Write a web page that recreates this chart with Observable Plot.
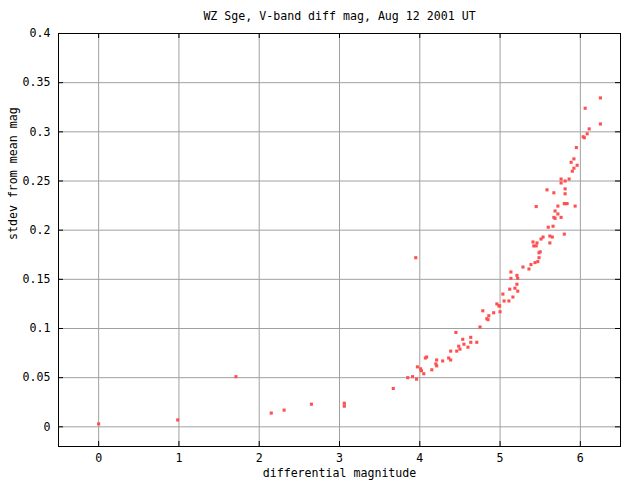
<!DOCTYPE html>
<html>
<head>
<meta charset="utf-8">
<script src="https://cdn.jsdelivr.net/npm/d3@7"></script>
<script src="https://cdn.jsdelivr.net/npm/@observablehq/plot@0.6"></script>
<style>
  html, body { margin: 0; padding: 0; background: #fff; }
</style>
</head>
<body>
<div id="chart"></div>
<script>
const title = "WZ Sge, V-band diff mag, Aug 12 2001 UT";
const xLabel = "differential magnitude";
const yLabel = "stdev from mean mag";

const xTicks = [0, 1, 2, 3, 4, 5, 6];
const xTickLabels = ["0", "1", "2", "3", "4", "5", "6"];
const yTicks = [0, 0.05, 0.1, 0.15, 0.2, 0.25, 0.3, 0.35, 0.4];
const yTickLabels = ["0", "0.05", "0.1", "0.15", "0.2", "0.25", "0.3", "0.35", "0.4"];

const mag = [
  0, 0.985, 1.71, 2.15, 2.31, 2.65, 3.06, 3.06, 3.67, 3.95,
  3.85, 3.91, 3.96, 3.97, 4.01, 4.02, 4.05, 4.07, 4.085, 4.15,
  4.20, 4.21, 4.21, 4.285, 4.36, 4.385, 4.385, 4.45, 4.46, 4.485,
  4.50, 4.535, 4.55, 4.60, 4.635, 4.635, 4.71, 4.75, 4.785, 4.835,
  4.85, 4.86, 4.92, 4.96, 4.985, 4.995, 5.0, 5.035, 5.05, 5.11,
  5.12, 5.135, 5.135, 5.16, 5.185, 5.21, 5.21, 5.22, 5.22, 5.285,
  5.36, 5.385, 5.435, 5.47, 5.485, 5.485, 5.50, 5.42, 5.45, 5.41,
  5.46, 5.51, 5.535, 5.62, 5.65, 5.62, 5.80, 5.60, 5.66, 5.45,
  5.67, 5.685, 5.72, 5.76, 5.685, 5.72, 5.80, 5.81, 5.835, 5.935,
  5.585, 5.67, 5.81, 5.81, 5.76, 5.76, 5.81, 5.86, 5.90, 6.25,
  6.06, 6.25, 6.11, 6.085, 6.035, 6.05, 5.95, 5.92, 5.885, 5.96,
  5.92
];
const stdev = [
  0.003, 0.007, 0.051, 0.014, 0.017, 0.023, 0.024, 0.021, 0.039, 0.172,
  0.050, 0.051, 0.0485, 0.061, 0.059, 0.057, 0.054, 0.070, 0.071, 0.058,
  0.064, 0.068, 0.062, 0.067, 0.070, 0.068, 0.077, 0.096, 0.077, 0.082,
  0.079, 0.089, 0.084, 0.081, 0.091, 0.086, 0.086, 0.1015, 0.118, 0.110,
  0.109, 0.113, 0.116, 0.125, 0.123, 0.123, 0.117, 0.135, 0.128, 0.128,
  0.140, 0.1575, 0.151, 0.132, 0.141, 0.154, 0.145, 0.151, 0.138, 0.1625,
  0.1605, 0.165, 0.167, 0.168, 0.172, 0.177, 0.178, 0.184, 0.184, 0.188,
  0.187, 0.191, 0.193, 0.194, 0.193, 0.187, 0.196, 0.203, 0.204, 0.224,
  0.213, 0.212, 0.2165, 0.213, 0.2195, 0.2245, 0.227, 0.227, 0.227, 0.2245,
  0.241, 0.238, 0.242, 0.237, 0.252, 0.248, 0.250, 0.252, 0.260, 0.3345,
  0.324, 0.308, 0.303, 0.298, 0.295, 0.294, 0.284, 0.2725, 0.269, 0.266,
  0.263
];

const data = mag.map((m, i) => ({mag: m, stdev: stdev[i]}));

const W = 640, H = 480;
const mL = 58, mR = 20, mT = 33, mB = 34;
const frameW = W - mL - mR, frameH = H - mT - mB;
const tickLen = 5;
const font = "'DejaVu Sans Mono', 'Liberation Mono', monospace";

const chart = Plot.plot({
  width: W,
  height: H,
  marginLeft: mL,
  marginRight: mR,
  marginTop: mT,
  marginBottom: mB,
  style: {fontFamily: font, fontSize: "11.6px", background: "#fff", color: "#000"},
  x: {domain: [-0.5, 6.5], ticks: xTicks},
  y: {domain: [-0.02, 0.4], ticks: yTicks},
  marks: [
    Plot.ruleX(xTicks, {x: d => d, stroke: "#a0a0a0", strokeWidth: 1}),
    Plot.ruleY(yTicks, {y: d => d, stroke: "#a0a0a0", strokeWidth: 1}),
    Plot.ruleY(yTicks, {y: d => d, stroke: "#000", insetRight: frameW - tickLen}),
    Plot.ruleY(yTicks, {y: d => d, stroke: "#000", insetLeft: frameW - tickLen}),
    Plot.ruleX(xTicks, {x: d => d, stroke: "#000", insetBottom: frameH - tickLen}),
    Plot.ruleX(xTicks, {x: d => d, stroke: "#000", insetTop: frameH - tickLen}),
    Plot.frame({stroke: "#000", strokeWidth: 1}),
    Plot.axisX(xTicks, {tickSize: 0, tickPadding: 7, tickFormat: (d, i) => xTickLabels[i], label: null, fill: "#000"}),
    Plot.axisY(yTicks, {tickSize: 0, tickPadding: 8, tickFormat: (d, i) => yTickLabels[i], label: null, fill: "#000"}),
    Plot.dot(data, {x: "mag", y: "stdev", symbol: "square", r: 1.75, fill: "#ff5050", stroke: "none"}),
    Plot.text([title], {frameAnchor: "top", dy: -17, text: d => d, fill: "#000", lineAnchor: "middle"}),
    Plot.text([xLabel], {frameAnchor: "bottom", dy: 27, text: d => d, fill: "#000", lineAnchor: "middle"}),
    Plot.text([yLabel], {frameAnchor: "left", dx: -45, rotate: -90, text: d => d, fill: "#000", lineAnchor: "middle"})
  ]
});

document.getElementById("chart").appendChild(chart);
</script>
</body>
</html>
